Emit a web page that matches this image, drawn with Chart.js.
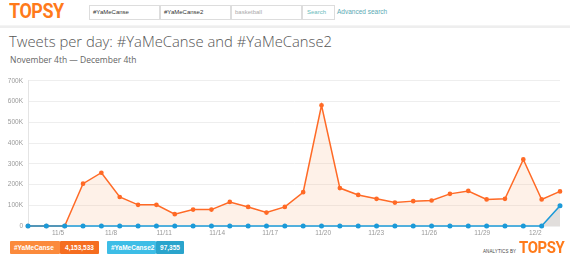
<!DOCTYPE html>
<html>
<head>
<meta charset="utf-8">
<script src="https://cdn.jsdelivr.net/npm/chart.js@4"></script>
<style>
  html, body { margin:0; padding:0; background:#fff; width:570px; height:271px; overflow:hidden; font-family:"Open Sans", "Liberation Sans", sans-serif; }
  .abs { position:absolute; }
  #logo { left:9px; top:0px; font-family:Roboto, "Liberation Sans", sans-serif; font-weight:700; font-size:19.5px; color:#ff7a1a; letter-spacing:-0.5px; transform-origin:0 0; transform:scaleX(0.92); }
  .inp { top:5px; height:13px; border:1px solid #ddd; background:#fff; font-family:"Liberation Sans", sans-serif; font-size:6px; line-height:13px; padding-left:3px; color:#333; box-sizing:content-box; }
  #hdrline { left:0; top:25px; width:570px; height:2px; background:#eee; border-top:1px solid #f4f4f4; }
  #title { left:9px; top:31px; font-weight:300; font-size:14.8px; color:#555; white-space:nowrap; }
  #sub { left:10px; top:54px; font-weight:400; font-size:8.5px; color:#666; white-space:nowrap; }
  .badge { top:241px; height:13px; font-family:"Liberation Sans", sans-serif; font-weight:700; font-size:6.5px; color:#fff; line-height:13px; border-radius:1px; }
  #cwrap { position:absolute; left:0; top:72px; width:570px; height:168px; }
</style>
</head>
<body>
<div id="logo" class="abs">TOPSY</div>
<div class="abs inp" style="left:89px;width:66px;">#YaMeCanse</div>
<div class="abs inp" style="left:160px;width:66px;">#YaMeCanse2</div>
<div class="abs inp" style="left:231px;width:66px;color:#aaa;">basketball</div>
<div class="abs inp" style="left:302px;width:27px;color:#6bb;padding-left:4px;">Search</div>
<div class="abs" style="left:337px;top:5px;line-height:14px;font-family:'Liberation Sans',sans-serif;font-size:6.5px;color:#5aa9b3;">Advanced search</div>
<div id="hdrline" class="abs"></div>
<div id="title" class="abs">Tweets per day: #YaMeCanse and #YaMeCanse2</div>
<div id="sub" class="abs">November 4th — December 4th</div>

<div id="cwrap"><canvas id="c"></canvas></div>

<div class="abs badge" style="left:10px;width:50px;background:#fb8a3c;"><span style="padding-left:4px;">#YaMeCanse</span></div>
<div class="abs badge" style="left:60px;width:39px;background:#f56d1f;text-align:center;">4,153,533</div>
<div class="abs badge" style="left:107px;width:49px;background:#3dbde6;"><span style="padding-left:4px;">#YaMeCanse2</span></div>
<div class="abs badge" style="left:156px;width:28px;background:#2aa4cc;text-align:center;">97,355</div>

<div class="abs" style="left:483px;top:249px;font-family:'Liberation Sans',sans-serif;font-size:4.5px;color:#444;letter-spacing:0.1px;">ANALYTICS BY</div>
<div class="abs" style="left:519px;top:238px;font-family:Roboto,'Liberation Sans',sans-serif;font-weight:700;font-size:16.5px;color:#ff7a1a;letter-spacing:-0.4px;transform-origin:0 0;transform:scaleX(0.9);">TOPSY</div>

<script>
// ---- data ----
const categories = ['11/4','11/5','11/6','11/7','11/8','11/9','11/10','11/11','11/12','11/13',
  '11/14','11/15','11/16','11/17','11/18','11/19','11/20','11/21','11/22','11/23',
  '11/24','11/25','11/26','11/27','11/28','11/29','11/30','12/1','12/2','12/3'];
const yaMeCanse = [0, 0, 0, 204000, 257000, 140000, 102000, 102000, 57000, 79000,
  79000, 116000, 92000, 65000, 92000, 163000, 582000, 183000, 150000, 131000,
  113000, 120000, 123000, 155000, 169000, 128000, 131000, 321000, 128000, 167000];
const yaMeCanse2 = [0, 0, 0, 0, 0, 0, 0, 0, 0, 0,
  0, 0, 0, 0, 0, 0, 0, 0, 0, 0,
  0, 0, 0, 0, 0, 0, 0, 0, 0, 97355];
// x-axis tick labels (days after Nov 4) and their text
const tickDays = [1, 4, 7, 10, 13, 16, 19, 22, 25, 28];
const tickLabels = ['11/5','11/8','11/11','11/14','11/17','11/20','11/23','11/26','11/29','12/2'];
const yTicks = [0, 100000, 200000, 300000, 400000, 500000, 600000, 700000];

const ORANGE = '#ff6a26';
const BLUE = '#1c9ad8';

new Chart(document.getElementById('c'), {
  type: 'line',
  data: {
    labels: categories,
    datasets: [
      {
        label: '#YaMeCanse2', data: yaMeCanse2, order: 0, clip: false,
        borderColor: BLUE, backgroundColor: 'rgba(215,215,215,0.75)',
        pointBackgroundColor: BLUE, pointBorderColor: BLUE,
        borderWidth: 1.6, pointRadius: 1.7, fill: 'origin', tension: 0, xAxisID: 'x'
      },
      {
        label: '#YaMeCanse', data: yaMeCanse, order: 1, clip: false,
        borderColor: ORANGE, backgroundColor: 'rgba(250,170,120,0.17)',
        pointBackgroundColor: ORANGE, pointBorderColor: ORANGE,
        borderWidth: 1.5, pointRadius: 1.6, fill: 'origin', tension: 0, xAxisID: 'x'
      }
    ]
  },
  options: {
    responsive: true, maintainAspectRatio: false, animation: false,
    layout: { padding: { top: 7, right: 10, left: 0, bottom: 0 } },
    plugins: { legend: { display: false }, tooltip: { enabled: false } },
    scales: {
      x: { type: 'category', display: false, offset: false },
      x2: {
        type: 'linear', position: 'bottom', min: -0.7, max: 29.4,
        grid: { display: false, drawTicks: false },
        border: { display: false },
        afterBuildTicks: (s) => { s.ticks = tickDays.map(v => ({ value: v })); },
        afterFit: (s) => { s.height = 14; },
        ticks: {
          autoSkip: false, maxRotation: 0, padding: 3,
          color: '#999', font: { family: 'Liberation Sans', size: 6.5 },
          callback: (v) => tickLabels[tickDays.indexOf(v)]
        }
      },
      y: {
        min: 0, max: 700000,
        afterBuildTicks: (s) => { s.ticks = yTicks.map(v => ({ value: v })); },
        afterFit: (s) => { s.width = 28; },
        grid: { color: '#eeeeee', lineWidth: 1, drawTicks: false },
        border: { display: true, color: '#e4e4e4' },
        ticks: {
          padding: 5, color: '#999', font: { family: 'Liberation Sans', size: 6.5 },
          callback: (v) => v === 0 ? '0' : (v / 1000) + 'K'
        }
      }
    }
  }
});
</script>
</body>
</html>
